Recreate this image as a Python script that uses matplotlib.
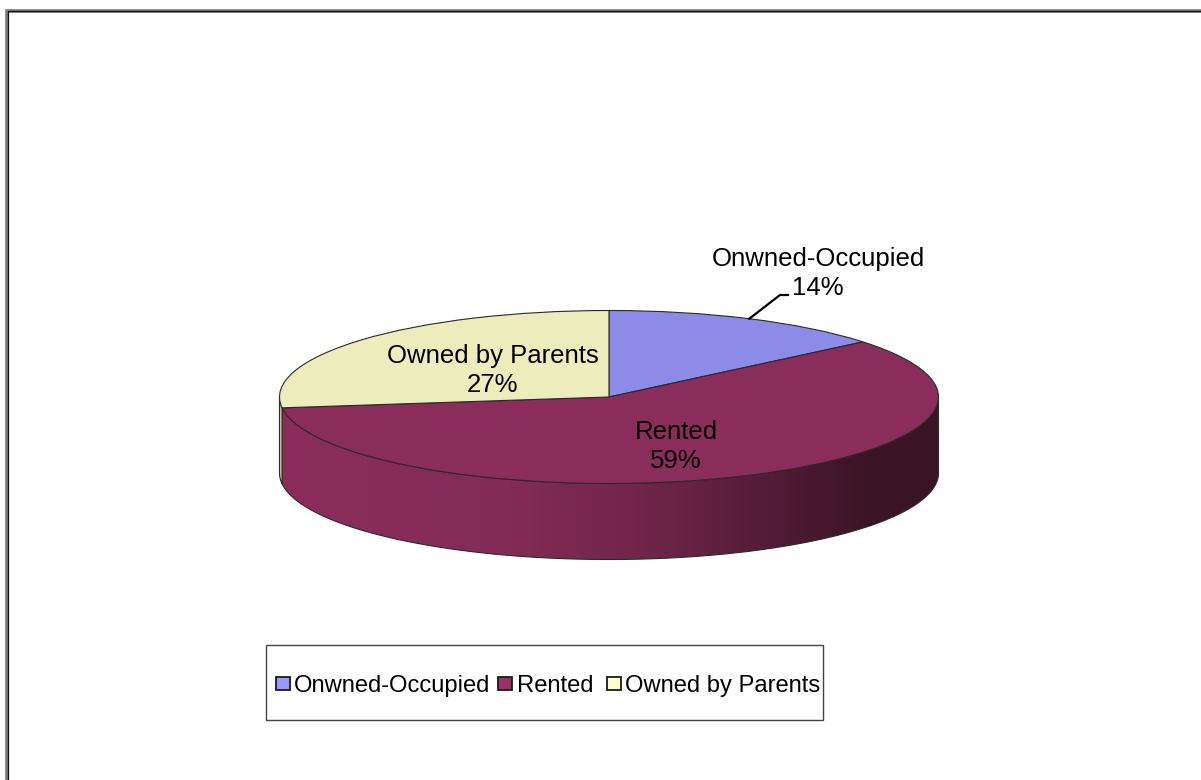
import numpy as np
import matplotlib
matplotlib.use("Agg")
import matplotlib.pyplot as plt
from matplotlib.patches import Wedge, Polygon, Rectangle
from matplotlib.transforms import Affine2D
from matplotlib.colors import LinearSegmentedColormap

plt.rcParams['font.family'] = ['Liberation Sans', 'DejaVu Sans']

# Housing tenure shares (percent)
categories = ["Onwned-Occupied", "Rented", "Owned by Parents"]
values = [14, 59, 27]
pct_labels = ["14%", "59%", "27%"]

top_colors = ["#8C8CE8", "#8B2D5A", "#ECECBC"]
legend_colors = ["#9999FF", "#993366", "#FFFFCC"]
side_colors = ["#6F6FC0", None, "#C8C89A"]

W, H = 1201, 780
fig = plt.figure(figsize=(W / 100, H / 100), dpi=100)
ax = fig.add_axes([0, 0, 1, 1])
ax.set_xlim(0, W)
ax.set_ylim(H, 0)
ax.axis("off")

# Pie geometry (tilted disc)
cx, cy = 609, 397
rx, ry = 329.5, 86.5
depth = 76

# unit circle -> tilted ellipse (angles clockwise from 12 o'clock)
ell = Affine2D().scale(rx, -ry).translate(cx, cy) + ax.transData


def ell_pt(theta_deg, dy=0.0):
    t = np.radians(theta_deg)
    return cx + rx * np.sin(t), cy - ry * np.cos(t) + dy


fracs = np.array(values, dtype=float) / np.sum(values)
bounds = np.concatenate([[0], np.cumsum(fracs) * 360])

# Side walls (only the front half, 90..270 deg, is visible)
side_cmap = LinearSegmentedColormap.from_list(
    "side",
    [(0.0, "#8B2D5B"), (0.35, "#832B56"), (0.55, "#70264A"),
     (0.75, "#521B37"), (0.9, "#3A1424"), (1.0, "#3B1526")])

for i in range(len(values)):
    a0, a1 = bounds[i], bounds[i + 1]
    lo, hi = max(a0, 90), min(a1, 270)
    if hi <= lo:
        continue
    th = np.linspace(lo, hi, 200)
    top = np.array([ell_pt(t) for t in th])
    bot = np.array([ell_pt(t, depth) for t in th[::-1]])
    pts = np.vstack([top, bot])
    if i == 1:
        poly = Polygon(pts, closed=True, facecolor="none", edgecolor="none")
        ax.add_patch(poly)
        grad = np.linspace(0, 1, 512).reshape(1, -1)
        im = ax.imshow(grad, cmap=side_cmap, aspect="auto",
                       extent=(cx - rx, cx + rx, cy + ry + depth + 2, cy - ry),
                       zorder=1)
        im.set_clip_path(poly)
        ax.add_patch(Polygon(pts, closed=True, facecolor="none",
                             edgecolor="#2a2a2a", lw=0.8, zorder=2))
    else:
        ax.add_patch(Polygon(pts, closed=True, facecolor=side_colors[i],
                             edgecolor="#2a2a2a", lw=0.8, zorder=2))

# Top faces
for i in range(len(values)):
    a0, a1 = bounds[i], bounds[i + 1]
    w = Wedge((0, 0), 1, 90 - a1, 90 - a0, facecolor=top_colors[i],
              edgecolor="#2a2a2a", lw=0.8, transform=ell, zorder=3)
    ax.add_patch(w)

# Data labels
fs = 18.5
ax.text(818, 259, categories[0], ha="center", va="center", fontsize=fs, zorder=5)
ax.text(818, 288, pct_labels[0], ha="center", va="center", fontsize=fs, zorder=5)
mid0 = (bounds[0] + bounds[1]) / 2
lx, ly = ell_pt(mid0)
ax.plot([lx, 780, 788], [ly, 295, 295], color="black", lw=1.6, zorder=5)

ax.text(676, 432, categories[1], ha="center", va="center", fontsize=fs, zorder=5)
ax.text(676, 461, pct_labels[1], ha="center", va="center", fontsize=fs, zorder=5)

ax.text(493, 356, categories[2], ha="center", va="center", fontsize=fs, zorder=5)
ax.text(493, 385, pct_labels[2], ha="center", va="center", fontsize=fs, zorder=5)

# Legend
ax.add_patch(Rectangle((266, 645), 557, 75, facecolor="white",
                       edgecolor="#444444", lw=1.0, zorder=4))
key_x = [276, 498, 607]
text_x = [294, 517, 625]
key_top, key_size = 676.5, 13.5
baseline = 692
for i in range(len(categories)):
    ax.add_patch(Rectangle((key_x[i], key_top), key_size, key_size,
                           facecolor=legend_colors[i], edgecolor="#1a1a1a",
                           lw=1.3, zorder=6))
    ax.text(text_x[i], baseline, categories[i], ha="left", va="baseline",
            fontsize=17.1, zorder=6)

# Chart area border (top and left visible)
ax.plot([7, 7, W + 5], [H + 5, 10.5, 10.5], color="#7a7a7a", lw=2.6,
        solid_joinstyle="miter", zorder=7)
ax.plot([7.5, 7.5, W + 5], [H + 5, 11, 11], color="#111111", lw=0.9,
        solid_joinstyle="miter", zorder=8)

fig.savefig("out.png", dpi=100)
